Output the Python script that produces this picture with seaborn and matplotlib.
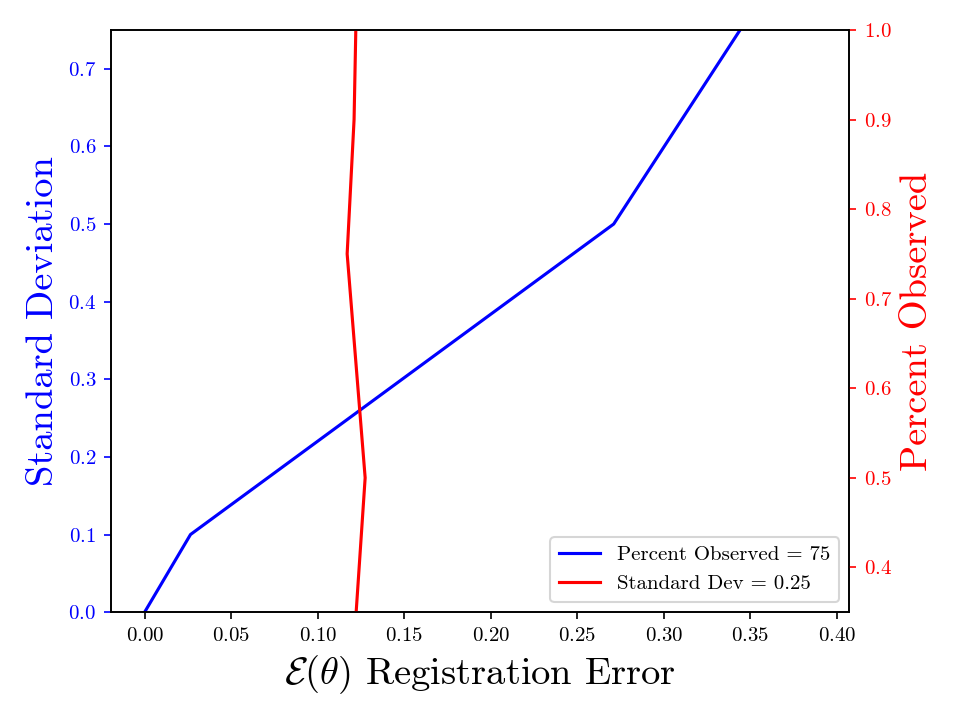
"""
Registration error vs standard deviation / percent observed
"""
import numpy as np
import pandas as pd
import matplotlib
matplotlib.use('Agg')
import matplotlib.pyplot as plt
import seaborn as sns

# data
err_std = [0.0, 0.0265, 0.271, 0.344]
std_dev = [0.0, 0.1, 0.5, 0.75]

err_pct = [0.1222, 0.1274, 0.117, 0.121, 0.122]
pct_obs = [0.35, 0.5, 0.75, 0.9, 1.0]

plt.rcParams['font.family'] = 'serif'
plt.rcParams['font.serif'] = ['cmr10']
plt.rcParams['mathtext.fontset'] = 'cm'
plt.rcParams['axes.formatter.use_mathtext'] = True

df_std = pd.DataFrame({'err': err_std, 'val': std_dev})
df_pct = pd.DataFrame({'err': err_pct, 'val': pct_obs})

fig, ax = plt.subplots(figsize=(6.4, 4.8), dpi=150)
fig.subplots_adjust(left=0.1155, right=0.8845, top=0.9584, bottom=0.1498)

sns.lineplot(data=df_std, x='err', y='val', sort=False, color='blue',
             label='Percent Observed = 75', ax=ax, legend=False)
ax.set_ylim(0, 0.75)
ax.set_xlim(-0.0195, 0.407)
ax.set_ylabel('Standard Deviation', color='blue', fontsize=18.5)
ax.set_xlabel(r'$\mathcal{E}(\theta)$ Registration Error', fontsize=18.5)
ax.tick_params(axis='y', colors='blue', labelsize=10)
ax.tick_params(axis='x', labelsize=10)

ax2 = ax.twinx()
sns.lineplot(data=df_pct, x='err', y='val', sort=False, color='red',
             label='Standard Dev = 0.25', ax=ax2, legend=False)
ax2.set_ylim(0.35, 1.0)
ax2.set_ylabel('Percent Observed', color='red', fontsize=18.5)
ax2.tick_params(axis='y', colors='red', labelsize=10)

h1, l1 = ax.get_legend_handles_labels()
h2, l2 = ax2.get_legend_handles_labels()
ax2.legend(h1 + h2, l1 + l2, loc='lower right', fontsize=10)

plt.savefig('out.png', dpi=150)
